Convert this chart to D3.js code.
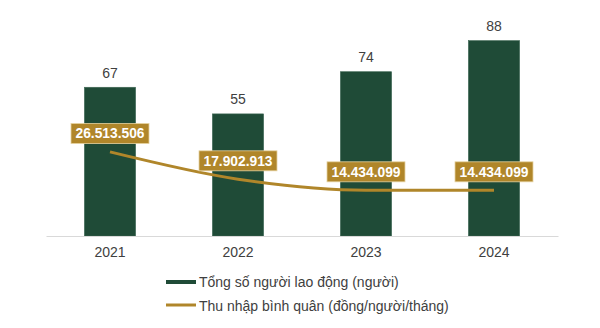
<!DOCTYPE html>
<html><head><meta charset="utf-8">
<script src="https://cdn.jsdelivr.net/npm/d3@7/dist/d3.min.js"></script>
<style>body{margin:0;background:#fff}svg{display:block;font-family:"Liberation Sans",Arial,sans-serif}</style>
</head><body><svg id="c" width="600" height="328"></svg>
<script>
const years = ["2021","2022","2023","2024"];
const workers = [67,55,74,88];
const income = [26513506,17902913,14434099,14434099];
const incomeLabels = ["26.513.506","17.902.913","14.434.099","14.434.099"];
const legendLabels = ["Tổng số người lao động (người)","Thu nhập bình quân (đồng/người/tháng)"];

const svg = d3.select("#c");
const barColor = "#1f4b37", gold = "#b0862a";
const x = d3.scaleBand().domain(years).range([46,558]).paddingInner(0.6).paddingOuter(0.3);
const y = d3.scaleLinear().domain([0,100]).range([236,14]);
const y2 = d3.scaleLinear().domain([0,70000000]).range([236,14]);
const cx = d => x(d)+x.bandwidth()/2;

svg.selectAll("rect.bar").data(years).join("rect").attr("class","bar")
  .attr("x",d=>x(d)).attr("width",x.bandwidth())
  .attr("y",(d,i)=>y(workers[i])).attr("height",(d,i)=>y(0)-y(workers[i]))
  .attr("fill",barColor).attr("stroke","#3d6653").attr("stroke-width",0.6);

const ax = svg.append("g").attr("transform","translate(0,236)").call(d3.axisBottom(x).tickSize(0).tickPadding(11));
ax.select(".domain").attr("stroke","#d9d9d9").attr("stroke-width",1.2);
ax.selectAll("text").attr("font-size",14).attr("fill","#404040").attr("font-family","Liberation Sans, Arial, sans-serif");

svg.selectAll("text.bv").data(years).join("text").attr("class","bv")
  .attr("x",cx).attr("y",(d,i)=>y(workers[i])-9.6).attr("text-anchor","middle")
  .attr("font-size",14).attr("fill","#404040").text((d,i)=>workers[i]);

const line = d3.line().x((d,i)=>cx(years[i])).y(d=>y2(d)).curve(d3.curveMonotoneX);
svg.append("path").datum(income).attr("d",line).attr("fill","none").attr("stroke",gold).attr("stroke-width",3).attr("stroke-linecap","butt");

const lab = svg.selectAll("g.lab").data(years).join("g").attr("class","lab")
  .attr("transform",(d,i)=>`translate(${cx(d)},${y2(income[i])-18.4})`);
lab.append("rect").attr("x",-39).attr("y",-10).attr("width",78).attr("height",20).attr("fill",gold).attr("stroke","#e6d3a0").attr("stroke-width",0.8);
lab.append("text").attr("text-anchor","middle").attr("dy","0.35em").attr("font-size",13.8).attr("font-weight","bold").attr("fill","#fff").text((d,i)=>incomeLabels[i]);

const lg = svg.append("g");
lg.append("rect").attr("x",166).attr("y",280).attr("width",30).attr("height",4).attr("fill",barColor);
lg.append("line").attr("x1",166).attr("x2",196).attr("y1",305).attr("y2",305).attr("stroke",gold).attr("stroke-width",3);
lg.selectAll("text").data(legendLabels).join("text").attr("x",199).attr("y",(d,i)=>287.3+i*24)
  .attr("font-size",14).attr("fill","#404040").text(d=>d);
</script></body></html>
